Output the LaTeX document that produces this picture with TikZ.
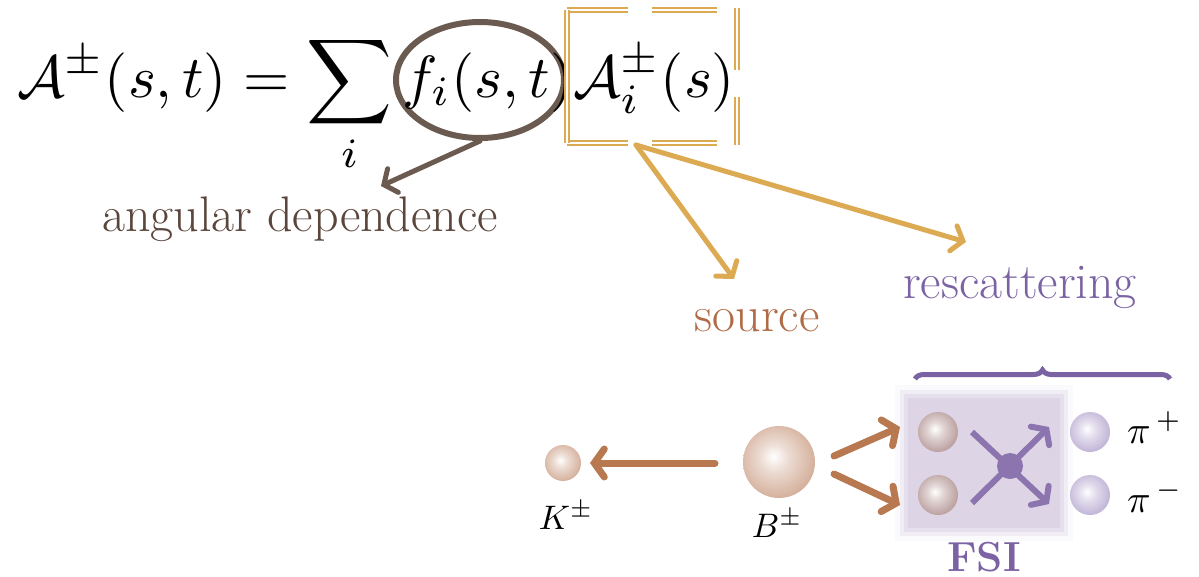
\documentclass[tikz,border=0pt]{standalone}
\usepackage{amsmath}
\usepackage{graphicx}
\usetikzlibrary{arrows.meta,shapes.geometric,decorations.pathreplacing}
\definecolor{ringbrown}{HTML}{6B5A4F}
\definecolor{angtext}{HTML}{5A463C}
\definecolor{gold}{HTML}{DBAA52}
\definecolor{srctext}{HTML}{B06A45}
\definecolor{rescol}{HTML}{7B63A3}
\definecolor{arrbrown}{HTML}{B87850}
\definecolor{kball}{HTML}{C99A80}
\definecolor{fsiball}{HTML}{A88584}
\definecolor{piball}{HTML}{B0A0CC}
\definecolor{fsibg}{HTML}{DDD4E6}
\definecolor{vertexcol}{HTML}{8C74AE}
\colorlet{mybc}{kball}
\pgfdeclareradialshading[mybc]{myball}{\pgfpoint{-4bp}{4bp}}{color(0bp)=(white); color(10bp)=(mybc!35!white); color(30bp)=(mybc!85!white); color(46bp)=(mybc); color(60bp)=(mybc)}
\tikzset{
  lab/.style={font=\fontsize{50}{60}\selectfont, inner sep=0pt, anchor=base},
  mlab/.style={inner sep=0pt, anchor=base},
  sphere/.style={circle, inner sep=0pt, minimum size=#1, shading=myball},
  bc/.code={\colorlet{mybc}{#1}},
  brarrow/.style={draw=ringbrown, line width=5pt, line cap=round, -{Straight Barb[length=10pt,width=26pt,line cap=round]}},
  goldarrow/.style={draw=gold, line width=5pt, line cap=round, -{Straight Barb[length=10pt,width=26pt,line cap=round]}},
  copperarrow/.style={draw=arrbrown, line width=7pt, line cap=round, -{Straight Barb[length=10pt,width=28pt,line cap=round]}},
  purparrow/.style={draw=vertexcol, line width=6pt, -{Straight Barb[length=9pt,width=26pt,line cap=round]}},
  gseg/.style={draw=gold, line width=2pt, double=white, double distance=2.5pt}
}
\newcommand{\plabmath}[2][3.4]{\scalebox{#1}{$#2$}}
\begin{document}
\begin{tikzpicture}[x=1pt,y=-1pt]
\useasboundingbox (0,0) rectangle (1199,576);
% ring around f_i (drawn first, behind the formula)
\node[draw=ringbrown, line width=6pt, ellipse, minimum width=168pt, minimum height=116pt] (fring) at (480,80) {};
% formula
\node[anchor=base west, inner sep=0pt] (formula) at (17,97)
  {\scalebox{5.95}{$\displaystyle \mathcal{A}^{\pm}(s,t)=\sum_i f_i(s,t)\mathcal{A}_i^{\pm}(s)$}};
% gold dashed double box
\draw[gseg] (567,10) -- (628,10);
\draw[gseg] (652,10) -- (717,10);
\draw[gseg] (567,143) -- (628,143);
\draw[gseg] (652,143) -- (717,143);
\draw[gseg] (567,10) -- (567,143);
\draw[gseg] (737,8) -- (737,70);
\draw[gseg] (737,97) -- (737,145);
\coordinate (aboxb) at (636,145);
% labels
\node[lab, text=angtext] (ang) at (300,231) {angular dependence};
\node[lab, text=srctext] (src) at (757,331) {source};
\node[lab, text=rescol] (resc) at (1020,298) {rescattering};
\coordinate (angtip) at (381,186);
\coordinate (srctip) at (734,279);
\coordinate (restip) at (966,242);
\draw[brarrow] (fring.270) -- (angtip);
\draw[goldarrow] (aboxb) -- (srctip);
\draw[goldarrow] (aboxb) -- (restip);
% brace
\draw[rescol, line width=5pt, decorate, decoration={brace, amplitude=9pt}] (915,379) -- (1170,379);
% FSI box (soft edges)
\fill[fsibg, opacity=0.15] (895,385) rectangle (1073,541);
\fill[fsibg, opacity=0.3] (900,390) rectangle (1068,536);
\fill[fsibg, opacity=0.55] (904,394) rectangle (1064,532);
\fill[fsibg] (908,398) rectangle (1060,528);
% balls
\node[sphere=36pt, bc=kball] (K) at (563,463) {};
\node[sphere=72pt, bc=kball] (B) at (779,462) {};
\node[sphere=40pt, bc=fsiball] (f1) at (938,432) {};
\node[sphere=40pt, bc=fsiball] (f2) at (938,495) {};
\node[sphere=40pt, bc=piball] (p1) at (1090,432) {};
\node[sphere=40pt, bc=piball] (p2) at (1090,495) {};
% copper arrows
\coordinate (katail) at (715,463);
\coordinate (katip) at (590,463);
\draw[copperarrow] (katail) -- (katip);
\coordinate (u1) at (834,456);
\coordinate (u2) at (900,427);
\coordinate (d1) at (834,474);
\coordinate (d2) at (900,505);
\draw[copperarrow] (u1) -- (u2);
\draw[copperarrow] (d1) -- (d2);
% vertex
\coordinate (l1) at (972,432);
\coordinate (l2) at (972,503);
\coordinate (t1) at (1049,427);
\coordinate (t2) at (1049,504);
\draw[purparrow] (l1) -- (t2);
\draw[purparrow] (l2) -- (t1);
\node[circle, fill=vertexcol, minimum size=26pt, inner sep=0pt] (vx) at (1010,466) {};
% particle labels
\node[mlab] (Kl) at (566,529) {\plabmath{K^{\pm}}};
\node[mlab] (Bl) at (777,537) {\plabmath{B^{\pm}}};
\node[mlab, anchor=base west] (pip) at (1127,443) {\plabmath[3.9]{\pi^{\,+}}};
\node[mlab, anchor=base west] (pim) at (1127,512) {\plabmath[3.9]{\pi^{\,-}}};
\node[inner sep=0pt, anchor=base, text=rescol, font=\fontsize{42}{46}\selectfont\bfseries] (fsi) at (984,571) {FSI};
\end{tikzpicture}
\end{document}
